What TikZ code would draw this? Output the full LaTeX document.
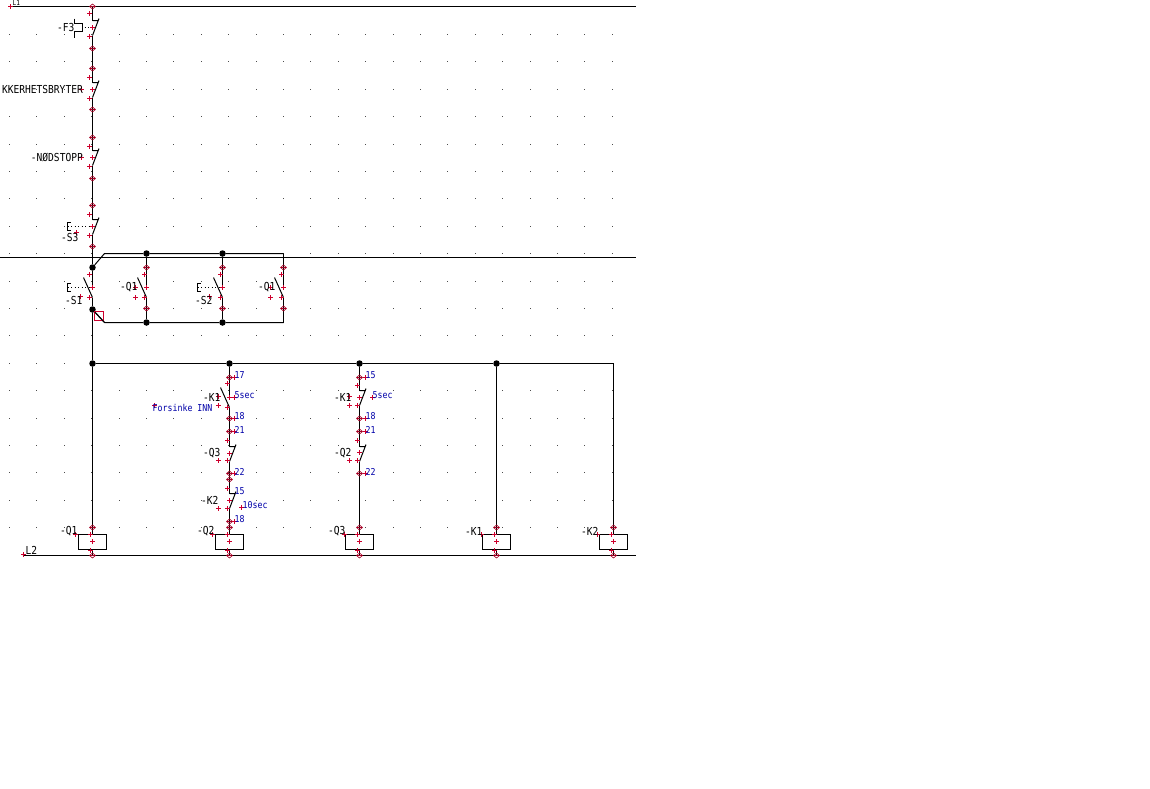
\documentclass[tikz,border=0pt]{standalone}
\usepackage{fontspec}
\setmainfont[FakeStretch=0.87]{DejaVu Sans Mono}
\usepackage{tikz}
\definecolor{markred}{RGB}{205,0,45}
\definecolor{tagblue}{RGB}{0,0,168}
\tikzset{
    wire/.style={draw=black, line width=1pt},
    lab/.style={anchor=west, inner sep=0pt, font=\fontsize{11}{12}\selectfont},
    tagtext/.style={anchor=west, inner sep=0pt, text=tagblue, font=\fontsize{9.5}{10}\selectfont},
    coil/.style={
           rectangle,
           draw=black, line width=1pt,
           minimum width=28pt,
           minimum height=15pt,
           inner sep=0pt,
           },
    junc/.style={circle, fill=black, minimum size=6.5pt, inner sep=0pt},
}
% closed contact: notch on the feed, blade down to the outgoing side
\newcommand{\contactnc}[3]{
 \coordinate (#1 in) at (#2,#3-7);
 \coordinate (#1 out) at (#2,#3+8);
 \draw[wire] (#1 in) -- +(6,0) (#1 out) -- +(6.5,-17);
}
% open contact: blade leans to the left
\newcommand{\contactno}[3]{
 \coordinate (#1 in) at (#2,#3-1);
 \coordinate (#1 out) at (#2,#3+10);
 \draw[wire] (#1 out) -- +(-9,-20);
}
\newcommand{\rcross}[2]{\draw[markred, line width=1pt] (#1,#2) +(-2.5,0) -- +(2.5,0) (#1,#2) +(0,-2.5) -- +(0,2.5);}
\newcommand{\rdiam}[2]{\draw[markred!80!black, line width=0.6pt] (#1,#2) +(-3,0) -- +(0,-2.5) -- +(3,0) -- +(0,2.5) -- cycle (#1,#2) +(-3,0) -- +(3,0);}

\begin{document}
\begin{tikzpicture}[x=1pt,y=-1pt]
 \useasboundingbox (0,0) rectangle (1150,788);
 \begin{scope}[shift={(0.5,0.5)}]

 % grid of the sheet
 \foreach \i in {0,...,22}
  \foreach \j in {0,...,18}
   \fill[black!70] ({9+27.4*\i-0.5},{34+27.4*\j-0.5}) rectangle +(1,1);

 % rails
 \coordinate (L1 start) at (10,6);
 \coordinate (L1 end) at (635.5,6);
 \coordinate (Mid start) at (-0.5,257);
 \coordinate (Mid end) at (635.5,257);
 \coordinate (L2 start) at (22,555);
 \coordinate (L2 end) at (635.5,555);
 \draw[wire] (L1 start) -- (L1 end);
 \draw[wire] (Mid start) -- (Mid end);
 \draw[wire] (L2 start) -- (L2 end);
 \coordinate (L1 tap) at (92,6);

 % safety chain
 \contactnc{F3}{92}{27}
 \contactnc{SB}{92}{89}
 \contactnc{NS}{92}{157}
 \contactnc{S3}{92}{226}
 \draw[wire] (L1 tap) -- (F3 in) (F3 out) -- (SB in) (SB out) -- (NS in) (NS out) -- (S3 in);

 % start branches
 \node[junc] (Top Left) at (92,267) {};
 \node[junc] (Bot Left) at (92,309) {};
 \node[junc] (Top Q1) at (146,253) {};
 \node[junc] (Top S2) at (222,253) {};
 \node[junc] (Bot Q1) at (146,322) {};
 \node[junc] (Bot S2) at (222,322) {};
 \coordinate (Top Bend) at (104,253);
 \coordinate (Top Right) at (283,253);
 \coordinate (Bot Bend) at (104,322);
 \coordinate (Bot Right) at (283,322);
 \contactno{S1}{92}{287}
 \contactno{Q1a}{146}{287}
 \contactno{S2}{222}{287}
 \contactno{Q1b}{283}{287}
 \draw[wire] (S3 out) -- (Top Left) -- (S1 in) (S1 out) -- (Bot Left);
 \draw[wire] (Top Left) -- (Top Bend) -- (Top Q1) -- (Top S2) -- (Top Right);
 \draw[wire] (Bot Left) -- (Bot Bend) -- (Bot Q1) -- (Bot S2) -- (Bot Right);
 \draw[wire] (Top Q1) -- (Q1a in) (Q1a out) -- (Bot Q1);
 \draw[wire] (Top S2) -- (S2 in) (S2 out) -- (Bot S2);
 \draw[wire] (Top Right) -- (Q1b in) (Q1b out) -- (Bot Right);
 \node[draw=markred, line width=1pt, minimum size=9pt, inner sep=0pt] (Cursor) at (98.5,315.5) {};

 % coils
 \node[coil] (Coil Q1) at (92,541.5) {};
 \node[coil] (Coil Q2) at (229,541.5) {};
 \node[coil] (Coil Q3) at (359,541.5) {};
 \node[coil] (Coil K1) at (496,541.5) {};
 \node[coil] (Coil K2) at (613,541.5) {};
 \foreach \n/\x in {Q1/92,Q2/229,Q3/359,K1/496,K2/613}{
  \coordinate (Foot \n) at (\x,555);
  \draw[wire] (Coil \n) -- (Foot \n);
 }

 % control bus
 \node[junc] (Bus Q1) at (92,363) {};
 \node[junc] (Bus Q2) at (229,363) {};
 \node[junc] (Bus Q3) at (359,363) {};
 \node[junc] (Bus K1) at (496,363) {};
 \coordinate (Bus K2) at (613,363);
 \draw[wire] (Bot Left) -- (Bus Q1) -- (Coil Q1);
 \draw[wire] (Bus Q1) -- (Bus Q2) -- (Bus Q3) -- (Bus K1) -- (Bus K2) -- (Coil K2);
 \draw[wire] (Bus K1) -- (Coil K1);

 % column Q2
 \contactno{K1a}{229}{397}
 \contactnc{Q3c}{229}{453}
 \contactnc{K2c}{229}{500}
 \draw[wire] (Bus Q2) -- (K1a in) (K1a out) -- (Q3c in) (Q3c out) -- (K2c in) (K2c out) -- (Coil Q2);

 % column Q3
 \contactnc{K1b}{359}{397}
 \contactnc{Q2c}{359}{453}
 \draw[wire] (Bus Q3) -- (K1b in) (K1b out) -- (Q2c in) (Q2c out) -- (Coil Q3);

 % F3 button and the dotted links
 \coordinate (F3 a) at (74,18);
 \coordinate (F3 b) at (74,23);
 \coordinate (F3 c) at (82,23);
 \coordinate (F3 d) at (82,31);
 \coordinate (F3 e) at (74,31);
 \coordinate (F3 f) at (74,37);
 \draw[wire] (F3 a) -- (F3 b) -- (F3 c) -- (F3 d) -- (F3 e) -- (F3 f);
 \draw[black, line width=1pt, dash pattern=on 1pt off 2.5pt] (84,27) -- (92,27);
 \foreach \n/\x/\y in {S3/92/226,S1/92/287,S2/222/287}{
  \coordinate (\n link) at (\x,\y);
  \coordinate (\n hook) at (\x-25,\y);
  \draw[black, line width=1pt, dash pattern=on 1pt off 2.5pt] (\n hook) -- (\n link);
  \draw[wire] (\x-22,\y-4) -- (\x-25,\y-4) -- (\x-25,\y+4) -- (\x-22,\y+4);
 }

 % red markers
 \foreach \y in {48,68,109,137,178,205,246,6,527,555} {\rdiam{92}{\y}}
 \foreach \x in {146,222,283} {\rdiam{\x}{267} \rdiam{\x}{308}}
 \foreach \x/\y in {229/377,229/418,229/431,229/473,229/479,229/521,229/527,229/555,
   359/377,359/418,359/431,359/473,359/527,359/555,496/527,496/555,613/527,613/555} {\rdiam{\x}{\y}}
 \foreach \x/\y in {10/6,89/13,92/27,89/36,89/77,92/89,89/98,81/89,89/146,92/157,89/166,81/157,
   89/214,92/226,89/235,76/232,89/274,92/287,89/297,80/296,144/274,146/287,144/297,135/287,135/297,
   220/274,222/287,220/297,209/296,281/274,283/287,281/297,270/287,270/297,
   227/383,229/397,227/407,218/396,218/405,234/377,234/418,234/431,227/440,229/453,218/460,227/460,
   234/473,227/488,229/500,218/508,227/508,234/521,241/507,234/397,154/405,
   357/385,359/397,357/405,349/396,349/405,365/377,372/397,365/418,365/431,357/440,359/452,349/460,357/460,365/473,
   23/554,75/534,212/534,344/534,481/534,597/534,
   90/534,92/541,90/550,227/534,229/541,227/550,357/534,359/541,357/550,494/534,496/541,494/550,611/534,613/541,611/550} {\rcross{\x}{\y}}

 % device tags
 \node[lab, font=\fontsize{7}{8}\selectfont] (Tag L1) at (12,2.5) {L1};
 \node[lab] (Tag L2) at (25,550) {L2};
 \node[lab] (Tag F3) at (56.5,27) {-F3};
 \node[lab, anchor=east] (Tag SB) at (82.5,89) {KKERHETSBRYTER};
 \node[lab, anchor=east] (Tag NS) at (82.5,157) {-NØDSTOPP};
 \node[lab] (Tag S3) at (60.5,237) {-S3};
 \node[lab] (Tag S1) at (64.5,300) {-S1};
 \node[lab] (Tag Q1a) at (119.5,287) {-Q1};
 \node[lab] (Tag S2) at (194.5,300) {-S2};
 \node[lab] (Tag Q1b) at (257.5,287) {-Q1};
 \node[lab] (Tag K1a) at (202.5,397) {-K1};
 \node[lab] (Tag Q3c) at (202.5,453) {-Q3};
 \node[lab] (Tag K2c) at (200.5,500) {-K2};
 \node[lab] (Tag K1b) at (333.5,397) {-K1};
 \node[lab] (Tag Q2c) at (333.5,453) {-Q2};
 \node[lab] (Tag Q1) at (59.5,531) {-Q1};
 \node[lab] (Tag Q2) at (196.5,531) {-Q2};
 \node[lab] (Tag Q3) at (327.5,531) {-Q3};
 \node[lab] (Tag K1) at (464.5,531) {-K1};
 \node[lab] (Tag K2) at (580.5,531) {-K2};

 % terminal numbers and timer notes
 \node[tagtext] (Num A) at (234,375) {17};
 \node[tagtext] (Num B) at (234,416) {18};
 \node[tagtext] (Num C) at (234,429) {21};
 \node[tagtext] (Num D) at (234,471) {22};
 \node[tagtext] (Num E) at (234,491) {15};
 \node[tagtext] (Num F) at (234,519) {18};
 \node[tagtext] (Num G) at (365,375) {15};
 \node[tagtext] (Num H) at (365,416) {18};
 \node[tagtext] (Num I) at (365,429) {21};
 \node[tagtext] (Num J) at (365,471) {22};
 \node[tagtext] (Time A) at (234,395) {5sec};
 \node[tagtext] (Time B) at (372,395) {5sec};
 \node[tagtext] (Time C) at (242,505) {10sec};
 \node[tagtext] (Note A) at (152,407) {Forsinke INN};

 % cursor stroke over the red box
 \draw[wire] (Bot Left) -- (Bot Bend);
 \end{scope}
\end{tikzpicture}
\end{document}
